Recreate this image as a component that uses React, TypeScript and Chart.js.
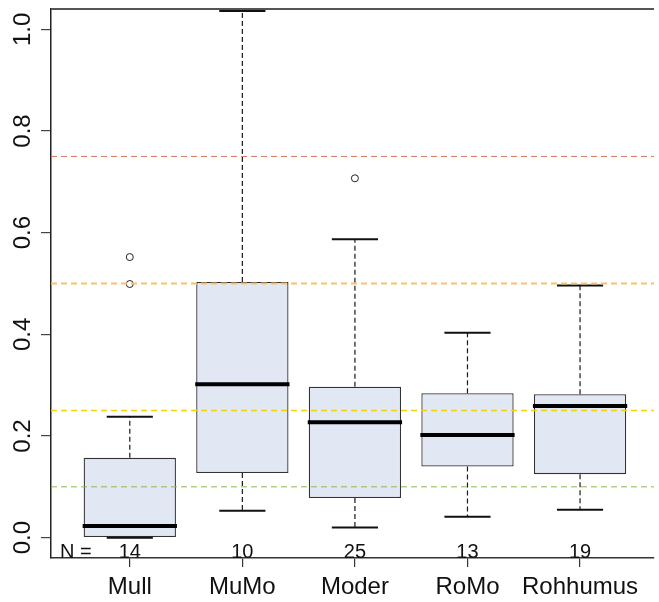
import React, { useEffect, useRef } from "react";
import { Chart, registerables } from "chart.js";

Chart.register(...registerables);

// ---- data ----
const categories = ["Mull", "MuMo", "Moder", "RoMo", "Rohhumus"];
const counts = [14, 10, 25, 13, 19];
const whiskerLow = [0.0, 0.053, 0.02, 0.041, 0.055];
const q1 = [0.0, 0.127, 0.078, 0.14, 0.125];
const medians = [0.023, 0.302, 0.227, 0.202, 0.259];
const q3 = [0.157, 0.503, 0.297, 0.284, 0.282];
const whiskerHigh = [0.238, 1.036, 0.587, 0.403, 0.496];
const outlierCategory = [1, 1, 3];
const outlierValues = [0.499, 0.552, 0.707];
const refLineValues = [0.75, 0.5, 0.25, 0.1];
const refLineColors = ["#d4775e", "#f6c26a", "#f2d400", "#8cb850"];
const refLineWidths = [1, 2, 1.5, 1];
const yTickValues = [0, 0.2, 0.4, 0.6, 0.8, 1.0];

const FONT = "'Liberation Sans', Arial, Helvetica, sans-serif";

const boxplotExtras = {
  id: "boxplotExtras",
  afterDatasetsDraw(chart: any) {
    const { ctx, chartArea, scales } = chart;
    const xs = scales.x;
    const ys = scales.y;
    const meta = chart.getDatasetMeta(0);
    ctx.save();
    ctx.beginPath();
    ctx.rect(chartArea.left, chartArea.top, chartArea.right - chartArea.left, chartArea.bottom - chartArea.top);
    ctx.clip();
    meta.data.forEach((bar: any, i: number) => {
      const cx = xs.getPixelForValue(i + 1);
      const half = bar.width / 2;
      const yQ1 = ys.getPixelForValue(q1[i]);
      const yQ3 = ys.getPixelForValue(q3[i]);
      const yLo = ys.getPixelForValue(whiskerLow[i]);
      const yHi = ys.getPixelForValue(whiskerHigh[i]);
      const yMed = ys.getPixelForValue(medians[i]);
      // dashed whiskers
      ctx.strokeStyle = "#1a1a1a";
      ctx.lineWidth = 1.2;
      ctx.setLineDash([5, 3]);
      ctx.beginPath();
      ctx.moveTo(cx, yQ3);
      ctx.lineTo(cx, yHi);
      if (yLo - yQ1 > 0.5) {
        ctx.moveTo(cx, yQ1);
        ctx.lineTo(cx, yLo);
      }
      ctx.stroke();
      ctx.setLineDash([]);
      // caps
      ctx.strokeStyle = "#111";
      ctx.lineWidth = 2;
      ctx.beginPath();
      ctx.moveTo(cx - half / 2, yHi);
      ctx.lineTo(cx + half / 2, yHi);
      ctx.moveTo(cx - half / 2, yLo);
      ctx.lineTo(cx + half / 2, yLo);
      ctx.stroke();
      // median
      ctx.strokeStyle = "#000";
      ctx.lineWidth = 4;
      ctx.beginPath();
      ctx.moveTo(cx - half - 1, yMed);
      ctx.lineTo(cx + half + 1, yMed);
      ctx.stroke();
    });
    // reference lines
    refLineValues.forEach((v, k) => {
      const py = ys.getPixelForValue(v);
      ctx.strokeStyle = refLineColors[k];
      ctx.lineWidth = refLineWidths[k];
      ctx.setLineDash([6, 4]);
      ctx.beginPath();
      ctx.moveTo(chartArea.left, py);
      ctx.lineTo(chartArea.right, py);
      ctx.stroke();
    });
    ctx.restore();
  },
  afterDraw(chart: any) {
    const { ctx, chartArea, scales } = chart;
    const xs = scales.x;
    ctx.save();
    // top frame line
    ctx.strokeStyle = "#555";
    ctx.lineWidth = 2;
    ctx.beginPath();
    ctx.moveTo(chartArea.left, chartArea.top);
    ctx.lineTo(chartArea.right, chartArea.top);
    ctx.stroke();
    // N labels
    ctx.fillStyle = "#111";
    ctx.font = `20px ${FONT}`;
    ctx.textBaseline = "alphabetic";
    ctx.textAlign = "left";
    const by = chartArea.bottom - 0.5;
    ctx.fillText("N =", chartArea.left + 9, by);
    ctx.textAlign = "center";
    counts.forEach((n, i) => {
      ctx.fillText(String(n), xs.getPixelForValue(i + 1), by);
    });
    ctx.restore();
  },
};

export default function App() {
  const ref = useRef<HTMLCanvasElement | null>(null);
  useEffect(() => {
    if (!ref.current) return;
    const chart = new Chart(ref.current, {
      type: "bar",
      data: {
        datasets: [
          {
            type: "bar",
            data: categories.map((_, i) => ({ x: i + 1, y: [q1[i], q3[i]] })) as any,
            backgroundColor: "#e1e7f3",
            borderColor: "#333",
            borderWidth: 1.3,
            borderSkipped: false,
            barPercentage: 0.82,
            categoryPercentage: 1,
          },
          {
            type: "scatter",
            data: outlierCategory.map((c, k) => ({ x: c, y: outlierValues[k] })) as any,
            pointStyle: "circle",
            pointRadius: 3.5,
            pointBackgroundColor: "rgba(255,255,255,0)",
            pointBorderColor: "#222",
            pointBorderWidth: 1,
            showLine: false,
          } as any,
        ],
      },
      options: {
        animation: false,
        responsive: false,
        devicePixelRatio: 1,
        events: [],
        layout: { padding: { top: 9, right: 0, left: 0, bottom: 0 } },
        plugins: { legend: { display: false }, tooltip: { enabled: false } },
        scales: {
          x: {
            type: "linear",
            min: 0.3,
            max: 5.657,
            offset: false,
            afterBuildTicks: (s: any) => {
              s.ticks = categories.map((_, i) => ({ value: i + 1 }));
            },
            afterFit: (s: any) => {
              s.height = 44;
              s.paddingLeft = 0;
              s.paddingRight = 0;
            },
            ticks: {
              autoSkip: false,
              maxRotation: 0,
              minRotation: 0,
              padding: 6,
              color: "#111",
              font: { family: FONT, size: 24 },
              callback: (v: any) => categories[Math.round(v) - 1] ?? "",
            },
            grid: { display: true, offset: false, drawOnChartArea: false, drawTicks: true, tickLength: 9, color: "#333", lineWidth: 1.2 },
            border: { display: true, color: "#333", width: 1.5 },
          },
          y: {
            type: "linear",
            min: -0.04,
            max: 1.04,
            afterBuildTicks: (s: any) => {
              s.ticks = yTickValues.map((v) => ({ value: v }));
            },
            afterFit: (s: any) => {
              s.width = 51;
              s.paddingTop = 0;
              s.paddingBottom = 0;
            },
            ticks: {
              minRotation: 90,
              maxRotation: 90,
              crossAlign: "center",
              padding: 1,
              color: "#111",
              font: { family: FONT, size: 24 },
              callback: (v: any) => Number(v).toFixed(1),
            },
            grid: { display: true, drawOnChartArea: false, drawTicks: true, tickLength: 10, color: "#444", lineWidth: 1.2 },
            border: { display: true, color: "#222", width: 1.5 },
          },
        },
      },
      plugins: [boxplotExtras],
    });
    return () => chart.destroy();
  }, []);
  return (
    <div style={{ position: "absolute", left: 0, top: 0, width: 659, height: 602, background: "#fff" }}>
      <canvas ref={ref} width={659} height={602} />
    </div>
  );
}
